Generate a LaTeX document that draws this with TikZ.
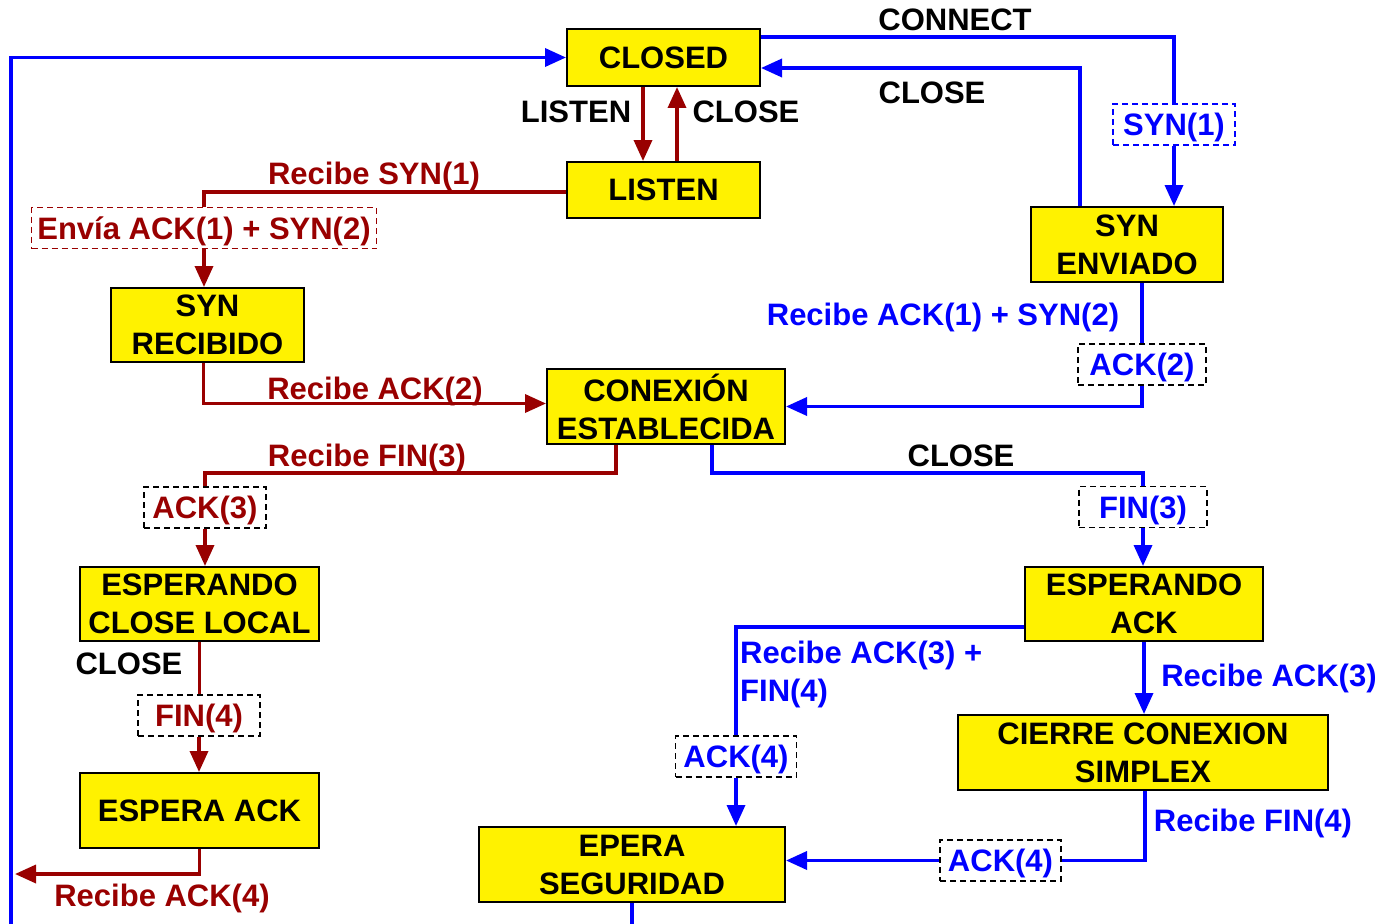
\documentclass[tikz,border=0pt]{standalone}
\usepackage{fontspec}
\setmainfont{Liberation Sans}
\usetikzlibrary{arrows.meta,positioning}
\definecolor{rojo}{RGB}{153,0,0}
\definecolor{azul}{RGB}{0,0,255}

\begin{document}
\begin{tikzpicture}[x=1pt,y=-1pt,
every node/.style={
        font=\fontsize{31}{38}\selectfont\bfseries, inner sep=0pt
    },
state/.style n args={2}{draw=black, line width=2pt, fill=yellow,
                 align=center, minimum width=#1, minimum height=#2},
msg/.style={draw=black, dashed, line width=1.5pt, dash pattern=on 6pt off 4pt,
                 text depth=0pt, minimum width=#1, minimum height=41},
lbl/.style={anchor=base, text=#1},
lbl/.default=black,
redflow/.style={draw=rojo, line width=3.5pt},
blueflow/.style={draw=azul, line width=3.5pt},
tip/.style={-{Triangle[length=21pt,width=18pt]}}
    ]
\useasboundingbox (0,0) rectangle (1380,923);

% estados
\node (Closed)      [state={193}{57}] at (663.5,57.5) {CLOSED};
\node (Listen)      [state={193}{56}] at (663.5,190) {LISTEN};
\node (SynRecibido) [state={193}{74}] at (207.5,325) {SYN\\RECIBIDO};
\node (SynEnviado)  [state={192}{75}] at (1127,244.5) {SYN\\ENVIADO};
\node (Conexion)    [state={238}{75}] at (666,406.5) {CONEXIÓN\\ESTABLECIDA};
\node (EspClose)    [state={239}{74}] at (199.5,604) {ESPERANDO\\CLOSE LOCAL};
\node (EsperaAck)   [state={239}{75}] at (199.5,810.5) {ESPERA ACK};
\node (EspAck)      [state={238}{74}] at (1144,604) {ESPERANDO\\ACK};
\node (Cierre)      [state={370}{75}] at (1143,752.5) {CIERRE CONEXION\\SIMPLEX};
\node (Seguridad)   [state={306}{75}] at (632,864.5) {EPERA\\SEGURIDAD};

% mensajes enviados
\node (EnviaAck) [msg=345, draw=rojo, text=rojo] at (204,228) {Envía ACK(1) + SYN(2)};
\node (Syn1)     [msg=122, draw=azul, text=azul] at (1174,124.5) {SYN(1)};
\node (Ack2)     [msg=128, text=azul] at (1142,364.5) {ACK(2)};
\node (Ack3)     [msg=122, text=rojo] at (205,507.5) {ACK(3)};
\node (Fin3)     [msg=128, text=azul] at (1143,507) {FIN(3)};
\node (Fin4)     [msg=122, text=rojo] at (199,715.5) {FIN(4)};
\node (Ack4a)    [msg=121, text=azul] at (736,756.5) {ACK(4)};
\node (Ack4b)    [msg=121, text=azul] at (1000.5,860.5) {ACK(4)};

\coordinate (LeftStart) at (11,935);
\coordinate (LeftEnd)   at (15,874);
\coordinate (SegEnd)    at (632,935);

% etiquetas
\node [lbl]        at (955,31)  {CONNECT};
\node [lbl]        at (932,103) {CLOSE};
\node [lbl]        at (576,122) {LISTEN};
\node [lbl]        at (746,122) {CLOSE};
\node [lbl=rojo]   at (374,184) {Recibe SYN(1)};
\node [lbl=rojo]   at (375,399) {Recibe ACK(2)};
\node [lbl=azul]   at (943,325) {Recibe ACK(1) + SYN(2)};
\node [lbl=rojo]   at (367,466) {Recibe FIN(3)};
\node [lbl]        at (961,466) {CLOSE};
\node [lbl]        at (129,674) {CLOSE};
\node [lbl=rojo]   at (162,906) {Recibe ACK(4)};
\node [anchor=north west, align=left, text=azul] at (740,641) {Recibe ACK(3) +\\FIN(4)};
\node [lbl=azul]   at (1269,686) {Recibe ACK(3)};
\node [lbl=azul]   at (1253,831) {Recibe FIN(4)};

% transiciones
\draw[blueflow, tip] (LeftStart) |- (Closed.west);
\draw[blueflow] ([yshift=-9pt]Closed.north east) -| (Syn1.north);
\draw[blueflow, tip] (Syn1.south) -- (Syn1.south |- SynEnviado.north);
\draw[blueflow, tip] ([xshift=-47pt]SynEnviado.north) |- ([yshift=-10.5pt]Closed.east);
\draw[redflow, tip] ([xshift=-20.5pt]Closed.south) -- ([xshift=-20.5pt]Listen.north);
\draw[redflow, tip] ([xshift=13.5pt]Listen.north) -- ([xshift=13.5pt]Closed.south);
\draw[redflow] ([yshift=-2pt]Listen.west) -| (EnviaAck.north);
\draw[redflow, tip] (EnviaAck.south) -- (EnviaAck.south |- SynRecibido.north);
\draw[redflow, tip] ([xshift=-4pt]SynRecibido.south) |- ([yshift=3pt]Conexion.west);
\draw[blueflow] (SynEnviado.south -| Ack2.north) -- (Ack2.north);
\draw[blueflow, tip] (Ack2.south) |- (Conexion.east);
\draw[redflow] ([xshift=-50pt]Conexion.south) -- ++(0,28) -| (Ack3.north);
\draw[redflow, tip] (Ack3.south) -- (Ack3.south |- EspClose.north);
\draw[blueflow] ([xshift=46pt]Conexion.south) -- ++(0,28) -| (Fin3.north);
\draw[blueflow, tip] (Fin3.south) -- (Fin3.south |- EspAck.north);
\draw[redflow] (EspClose.south) -- (EspClose.south |- Fin4.north);
\draw[redflow, tip] (Fin4.south) -- (Fin4.south |- EsperaAck.north);
\draw[redflow, tip] (EsperaAck.south) |- (LeftEnd);
\draw[blueflow] ([yshift=-23pt]EspAck.west) -| (Ack4a.north);
\draw[blueflow, tip] (Ack4a.south) -- (Ack4a.south |- Seguridad.north);
\draw[blueflow, tip] (EspAck.south) -- (EspAck.south |- Cierre.north);
\draw[blueflow] ([xshift=2pt]Cierre.south) |- (Ack4b.east);
\draw[blueflow, tip] (Ack4b.west) -- (Ack4b.west -| Seguridad.east);
\draw[blueflow] (Seguridad.south) -- (SegEnd);
\end{tikzpicture}
\end{document}
